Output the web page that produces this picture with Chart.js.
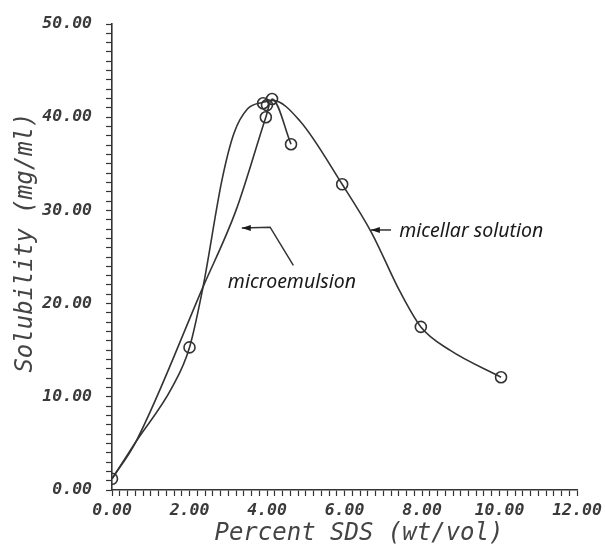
<!DOCTYPE html>
<html>
<head>
<meta charset="utf-8">
<script src="https://cdn.jsdelivr.net/npm/chart.js@4"></script>
<style>
  html, body { margin: 0; padding: 0; background: #fff; }
</style>
</head>
<body>
<canvas id="chart" width="605" height="554"></canvas>
<script>
// measured points (open circles)
const pointX = [0, 2.0, 3.9, 4.0, 3.97, 4.13, 4.62, 5.94, 7.97, 10.04];
const pointY = [1.2, 15.3, 41.5, 41.3, 40.0, 41.95, 37.1, 32.8, 17.5, 12.1];

// micellar solution curve
const micellarX = [0, 0.62, 1.55, 2.0, 2.35, 2.84, 3.15, 3.5, 3.9, 4.15, 4.85, 5.94, 6.7, 7.43, 7.97, 8.72, 10.04];
const micellarY = [1.2, 5.2, 11.0, 15.3, 21.8, 33.3, 38.3, 40.9, 41.6, 41.8, 39.6, 32.8, 27.6, 21.3, 17.5, 15.0, 12.1];

// microemulsion curve
const microX = [0, 0.62, 2.35, 3.2, 3.97, 4.13, 4.62];
const microY = [1.2, 5.2, 21.8, 30.0, 40.0, 41.95, 37.1];

const xTitle = "Percent SDS (wt/vol)";
const yTitle = "Solubility (mg/ml)";

// labels drawn on the plot, in data units
const notes = [
  { text: "micellar solution", x: 7.41, y: 27.7, arrow: [[6.68, 27.9], [7.2, 27.9]] },
  { text: "microemulsion", x: 2.99, y: 22.3, arrow: [[3.35, 28.1], [4.08, 28.2], [4.68, 24.1]] },
];

const pairs = (xs, ys) => xs.map((x, i) => ({ x, y: ys[i] }));

const INK = "#333";
const tickFont = { family: "DejaVu Sans Mono", size: 16.5, style: "italic", weight: "bold" };
const titleFont = { family: "DejaVu Sans Mono", size: 24, style: "italic" };

const notePlugin = {
  id: "notes",
  afterDatasetsDraw(chart) {
    const { ctx, scales: { x, y } } = chart;
    ctx.save();
    ctx.strokeStyle = INK;
    ctx.fillStyle = "#1a1a1a";
    ctx.lineWidth = 1.5;
    ctx.font = 'italic 19.5px "Noto Sans"';
    ctx.textBaseline = "middle";
    for (const n of notes) {
      ctx.fillText(n.text, x.getPixelForValue(n.x), y.getPixelForValue(n.y));
      const pts = n.arrow.map(([vx, vy]) => [x.getPixelForValue(vx), y.getPixelForValue(vy)]);
      ctx.beginPath();
      ctx.moveTo(pts[0][0], pts[0][1]);
      pts.slice(1).forEach((p) => ctx.lineTo(p[0], p[1]));
      ctx.stroke();
      // arrow head points left
      const [hx, hy] = pts[0];
      ctx.beginPath();
      ctx.moveTo(hx, hy);
      ctx.lineTo(hx + 9, hy - 3);
      ctx.lineTo(hx + 9, hy + 3);
      ctx.closePath();
      ctx.fill();
    }
    ctx.restore();
  },
};

const curve = (xs, ys) => ({
  data: pairs(xs, ys),
  showLine: true,
  pointRadius: 0,
  borderColor: INK,
  borderWidth: 1.6,
  cubicInterpolationMode: "monotone",
});

new Chart(document.getElementById("chart"), {
  type: "scatter",
  data: {
    datasets: [
      {
        data: pairs(pointX, pointY),
        showLine: false,
        pointStyle: "circle",
        pointRadius: 5.5,
        pointBorderWidth: 1.6,
        pointBorderColor: INK,
        pointBackgroundColor: "rgba(255,255,255,0)",
      },
      curve(micellarX, micellarY),
      curve(microX, microY),
    ],
  },
  options: {
    responsive: false,
    animation: false,
    layout: { padding: { top: 24, right: 28, left: 0, bottom: 0 } },
    plugins: { legend: { display: false }, tooltip: { enabled: false } },
    scales: {
      x: {
        min: 0,
        max: 12,
        ticks: {
          stepSize: 0.2,
          maxTicksLimit: 100,
          autoSkip: false,
          maxRotation: 0,
          padding: 5,
          color: "#3a3a3a",
          font: tickFont,
          callback: (v) => (Math.abs(v % 2) < 1e-6 ? v.toFixed(2) : ""),
        },
        grid: { drawOnChartArea: false, tickLength: 6, tickColor: INK, tickWidth: 1.2 },
        border: { color: INK, width: 1.6 },
        title: {
          display: true,
          text: "  " + xTitle,
          color: "#444",
          font: titleFont,
          padding: { top: 0, bottom: 6 },
        },
        afterFit(scale) {
          scale.height = 64;
          scale.paddingLeft = 0;
          scale.paddingRight = 0;
        },
      },
      y: {
        min: 0,
        max: 50,
        ticks: {
          stepSize: 1,
          maxTicksLimit: 100,
          autoSkip: false,
          padding: 14,
          color: "#3a3a3a",
          font: tickFont,
          callback: (v) => (Math.abs(v % 10) < 1e-6 ? v.toFixed(2) : ""),
        },
        grid: { drawOnChartArea: false, tickLength: 6, tickColor: INK, tickWidth: 1.2 },
        border: { color: INK, width: 1.6 },
        title: {
          display: true,
          text: "  " + yTitle,
          color: "#444",
          font: titleFont,
          padding: { top: 11, bottom: 0 },
        },
        afterFit(scale) {
          scale.width = 112;
          scale.paddingTop = 0;
          scale.paddingBottom = 0;
        },
      },
    },
  },
  plugins: [notePlugin],
});
</script>
</body>
</html>
